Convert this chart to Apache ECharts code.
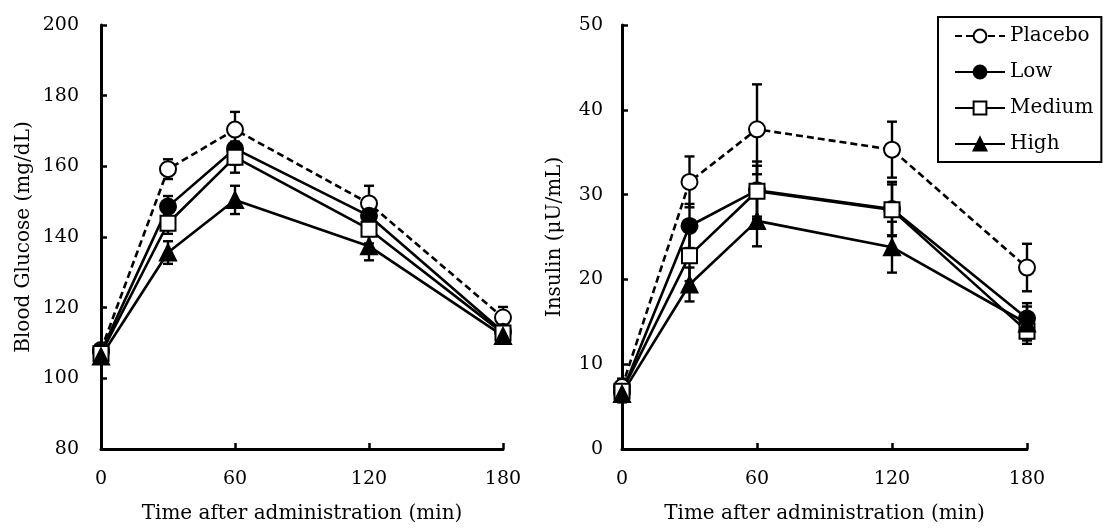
<!DOCTYPE html>
<html>
<head>
<meta charset="utf-8">
<script src="https://cdn.jsdelivr.net/npm/echarts@6/dist/echarts.min.js"></script>
<style>
  html, body { margin: 0; padding: 0; background: #fff; }
  #chart { width: 1104px; height: 529px; }
</style>
</head>
<body>
<div id="chart"></div>
<script>
// sampling times (min)
const times = [0, 30, 60, 120, 180];
const groups = ['Placebo', 'Low', 'Medium', 'High'];

// blood glucose (mg/dL), mean and error
const glucosePlacebo = [108.0, 159.2, 170.4, 149.5, 117.2];
const glucoseLow = [107.5, 148.6, 165.0, 146.0, 113.2];
const glucoseMedium = [107.0, 143.9, 162.6, 142.2, 112.8];
const glucoseHigh = [106.2, 135.6, 150.5, 137.4, 112.0];
const glucoseErrPlacebo = [1.5, 2.8, 5.0, 5.0, 3.0];
const glucoseErrLow = [1.5, 3.0, 4.5, 4.0, 2.0];
const glucoseErrMedium = [1.5, 3.0, 4.4, 4.0, 2.0];
const glucoseErrHigh = [1.5, 3.2, 4.0, 4.0, 2.0];

// insulin (uU/mL), mean and error
const insulinPlacebo = [7.3, 31.5, 37.7, 35.3, 21.4];
const insulinLow = [6.7, 26.3, 30.5, 28.3, 15.4];
const insulinMedium = [6.8, 22.8, 30.4, 28.2, 13.9];
const insulinHigh = [6.5, 19.4, 26.9, 23.8, 14.8];
const insulinErrPlacebo = [1.0, 3.0, 5.3, 3.3, 2.8];
const insulinErrLow = [1.0, 2.6, 3.4, 3.2, 1.8];
const insulinErrMedium = [1.0, 3.0, 3.0, 3.0, 1.5];
const insulinErrHigh = [1.0, 2.0, 3.0, 3.0, 2.0];

const font = 'DejaVu Serif';
const chart = echarts.init(document.getElementById('chart'));

// marker looks for each group
const looks = {
  Placebo: { symbol: 'circle', size: 16, fill: '#fff', dash: [7, 4] },
  Low: { symbol: 'circle', size: 16, fill: '#000', dash: 'solid' },
  Medium: { symbol: 'rect', size: 15, fill: '#fff', dash: 'solid' },
  High: { symbol: 'triangle', size: 16, fill: '#000', dash: 'solid' }
};

const lineSeries = (name, means, idx) => ({
  name: name,
  type: 'line',
  xAxisIndex: idx,
  yAxisIndex: idx,
  data: times.map((t, i) => [t, means[i]]),
  symbol: looks[name].symbol,
  symbolSize: looks[name].size,
  showAllSymbol: true,
  lineStyle: { color: '#000', width: 2.6, type: looks[name].dash },
  itemStyle: { color: looks[name].fill, borderColor: '#000', borderWidth: 2 },
  emphasis: { disabled: true },
  z: 3
});

// error bars through the axis scales
const errSeries = (means, errs, idx) => ({
  type: 'custom',
  xAxisIndex: idx,
  yAxisIndex: idx,
  silent: true,
  z: 2,
  data: times.map((t, i) => [t, means[i] - errs[i], means[i] + errs[i]]),
  renderItem: (params, api) => {
    const lo = api.coord([api.value(0), api.value(1)]);
    const hi = api.coord([api.value(0), api.value(2)]);
    const cap = 5;
    const style = { stroke: '#000', lineWidth: 2.4 };
    return {
      type: 'group',
      children: [
        { type: 'line', shape: { x1: lo[0], y1: lo[1], x2: hi[0], y2: hi[1] }, style },
        { type: 'line', shape: { x1: lo[0] - cap, y1: lo[1], x2: lo[0] + cap, y2: lo[1] }, style },
        { type: 'line', shape: { x1: hi[0] - cap, y1: hi[1], x2: hi[0] + cap, y2: hi[1] }, style }
      ]
    };
  }
});

const axisCommon = {
  axisLine: { onZero: false, lineStyle: { color: '#000', width: 3 } },
  axisTick: { inside: true, length: 6, lineStyle: { color: '#000', width: 2.5 } },
  splitLine: { show: false },
  axisLabel: { color: '#000', fontFamily: font, fontSize: 19 },
  nameTextStyle: { color: '#000', fontFamily: font, fontSize: 20 }
};

const xAxis = (idx) => Object.assign({}, axisCommon, {
  type: 'value',
  gridIndex: idx,
  min: 0,
  max: 180,
  interval: 60,
  name: 'Time after administration (min)',
  nameLocation: 'middle',
  nameGap: 55,
  axisLabel: Object.assign({}, axisCommon.axisLabel, { margin: 21 })
});

const option = {
  backgroundColor: '#fff',
  animation: false,
  grid: [
    { left: 101, right: 601, top: 25, bottom: 76 },
    { left: 622, right: 77, top: 25, bottom: 76 }
  ],
  xAxis: [xAxis(0), xAxis(1)],
  yAxis: [
    Object.assign({}, axisCommon, {
      type: 'value', gridIndex: 0, min: 80, max: 200, interval: 20,
      name: 'Blood Glucose (mg/dL)', nameLocation: 'middle', nameGap: 67,
      axisLabel: Object.assign({}, axisCommon.axisLabel, { margin: 22 })
    }),
    Object.assign({}, axisCommon, {
      type: 'value', gridIndex: 1, min: 0, max: 50, interval: 10,
      name: 'Insulin (\u03bcU/mL)', nameLocation: 'middle', nameGap: 57,
      axisLabel: Object.assign({}, axisCommon.axisLabel, { margin: 19 })
    })
  ],
  legend: {
    data: groups,
    orient: 'vertical',
    left: 938,
    top: 17,
    padding: [9, 8, 8, 16],
    itemGap: 16,
    itemWidth: 50,
    itemHeight: 16,
    borderColor: '#000',
    borderWidth: 2,
    selectedMode: false,
    textStyle: { color: '#000', fontFamily: font, fontSize: 20, lineHeight: 20 }
  },
  series: [
    errSeries(glucosePlacebo, glucoseErrPlacebo, 0),
    errSeries(glucoseLow, glucoseErrLow, 0),
    errSeries(glucoseMedium, glucoseErrMedium, 0),
    errSeries(glucoseHigh, glucoseErrHigh, 0),
    errSeries(insulinPlacebo, insulinErrPlacebo, 1),
    errSeries(insulinLow, insulinErrLow, 1),
    errSeries(insulinMedium, insulinErrMedium, 1),
    errSeries(insulinHigh, insulinErrHigh, 1),
    lineSeries('Placebo', glucosePlacebo, 0),
    lineSeries('Low', glucoseLow, 0),
    lineSeries('Medium', glucoseMedium, 0),
    lineSeries('High', glucoseHigh, 0),
    lineSeries('Placebo', insulinPlacebo, 1),
    lineSeries('Low', insulinLow, 1),
    lineSeries('Medium', insulinMedium, 1),
    lineSeries('High', insulinHigh, 1)
  ]
};

chart.setOption(option);
</script>
</body>
</html>
